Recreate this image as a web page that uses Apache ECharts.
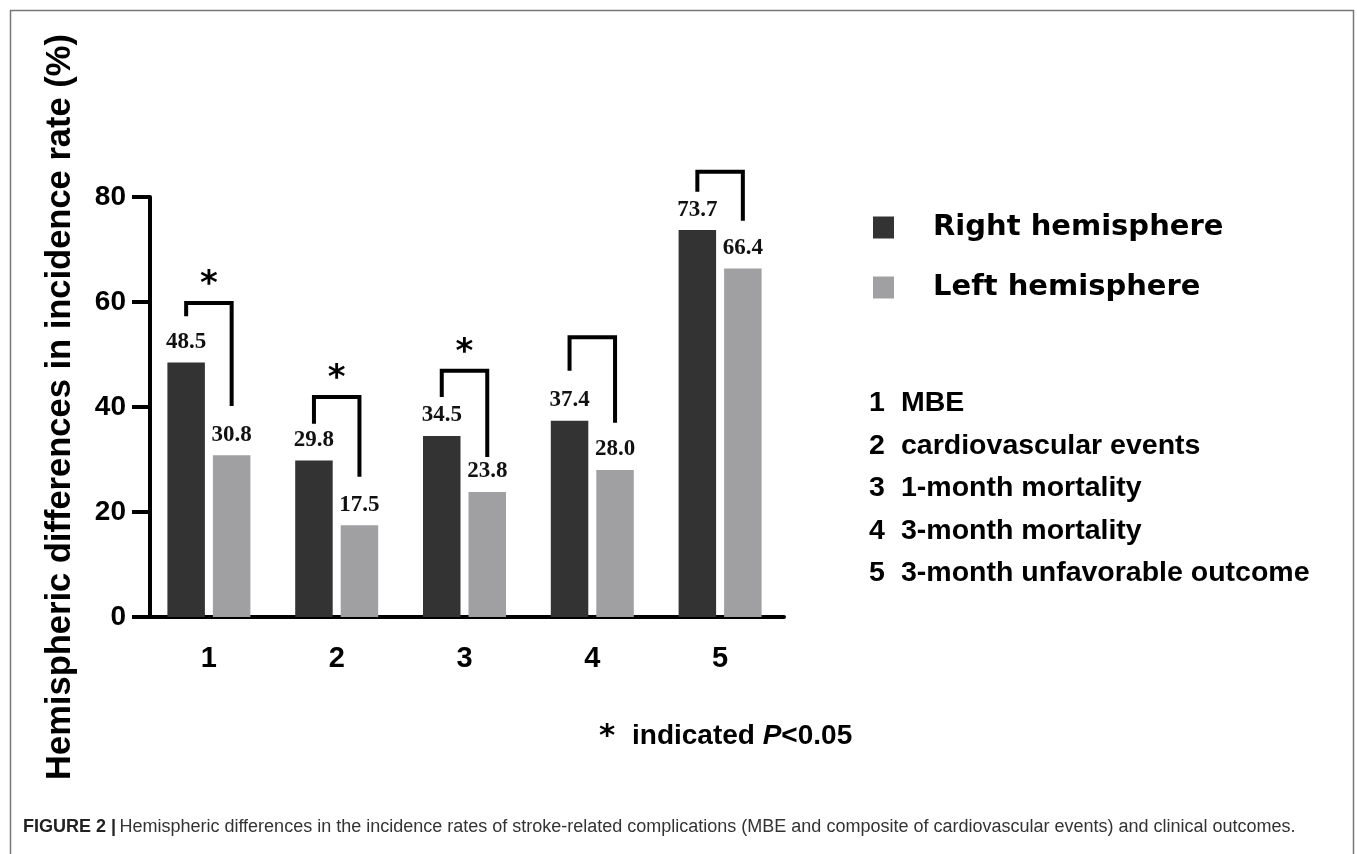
<!DOCTYPE html>
<html>
<head>
<meta charset="utf-8">
<script src="https://cdn.jsdelivr.net/npm/echarts@6/dist/echarts.min.js"></script>
<style>
html,body{margin:0;padding:0;background:#fff;}
#chart{width:1357px;height:854px;}
</style>
</head>
<body>
<div id="chart"></div>
<script>
// ---- data ----
const categories = ['1', '2', '3', '4', '5'];
const categoryNames = ['MBE', 'cardiovascular events', '1-month mortality', '3-month mortality', '3-month unfavorable outcome'];
const seriesNames = ['Right hemisphere', 'Left hemisphere'];
const rightHemisphere = [48.5, 29.8, 34.5, 37.4, 73.7];
const leftHemisphere = [30.8, 17.5, 23.8, 28.0, 66.4];
const yTickValues = [0, 20, 40, 60, 80];
// comparison brackets (in axis units)
const bracketTop = [59.8, 41.9, 46.9, 53.3, 84.8];
const bracketLeftEnd = [57.3, 36.8, 41.9, 46.9, 81.0];
const bracketRightEnd = [40.2, 26.7, 30.5, 37.0, 75.5];
const significant = [1, 1, 1, 0, 0];
const yAxisTitle = 'Hemispheric differences in incidence rate (%)';
const footnoteText = 'indicated ';
const footnoteP = 'P';
const footnoteTail = '<0.05';
const captionBold = 'FIGURE 2 |';
const captionText = 'Hemispheric differences in the incidence rates of stroke-related complications (MBE and composite of cardiovascular events) and clinical outcomes.';

// ---- style constants ----
const BAR_W = 37.5;
const BAR_GAP_PX = 8;
const DARK = '#333333';
const LIGHT = '#a0a0a3';
const SANS = '"Liberation Sans", Arial, sans-serif';

const chart = echarts.init(document.getElementById('chart'));

const listGraphics = [];
categories.forEach((c, i) => {
  const y = 403 + i * 42.5;
  listGraphics.push({
    type: 'text', left: 869, top: y - 14,
    style: { text: c, font: 'bold 28.5px ' + SANS, fill: '#000' }
  });
  listGraphics.push({
    type: 'text', left: 901, top: y - 14,
    style: { text: categoryNames[i], font: 'bold 28.5px ' + SANS, fill: '#000' }
  });
});

const valueLabel = {
  show: true, position: 'top', distance: 9,
  fontFamily: '"Liberation Serif", "Times New Roman", serif', fontWeight: 'bold', fontSize: 23, color: '#111',
  formatter: p => p.value.toFixed(1)
};

const option = {
  animation: false,
  backgroundColor: '#fff',
  grid: { left: 145, top: 197, width: 639, height: 420, containLabel: false },
  legend: {
    data: seriesNames,
    orient: 'vertical',
    left: 868,
    top: 208,
    itemWidth: 21,
    itemHeight: 22,
    itemGap: 31,
    icon: 'rect',
    selectedMode: false,
    textStyle: {
      fontFamily: '"DejaVu Sans", sans-serif',
      fontWeight: 'bold',
      fontSize: 29,
      color: '#000',
      padding: [0, 0, 0, 34]
    }
  },
  xAxis: {
    type: 'category',
    data: categories,
    axisLine: { lineStyle: { color: '#000', width: 4 } },
    axisTick: { alignWithLabel: true, length: 18, lineStyle: { color: '#000', width: 4 } },
    axisLabel: { margin: 27, color: '#000', fontFamily: SANS, fontWeight: 'bold', fontSize: 29 }
  },
  yAxis: {
    type: 'value',
    min: yTickValues[0],
    max: yTickValues[yTickValues.length - 1],
    interval: yTickValues[1] - yTickValues[0],
    offset: -5,
    name: yAxisTitle,
    nameLocation: 'middle',
    nameGap: 72,
    nameTextStyle: { color: '#000', fontFamily: SANS, fontWeight: 'bold', fontSize: 34.5 },
    splitLine: { show: false },
    axisLine: { show: true, lineStyle: { color: '#000', width: 4 } },
    axisTick: { show: true, length: 18, lineStyle: { color: '#000', width: 4 } },
    axisLabel: { margin: 24, color: '#000', fontFamily: SANS, fontWeight: 'bold', fontSize: 28 }
  },
  series: [
    {
      name: seriesNames[0], type: 'bar', data: rightHemisphere,
      barWidth: BAR_W, barGap: (BAR_GAP_PX / BAR_W * 100) + '%',
      itemStyle: { color: DARK },
      label: valueLabel
    },
    {
      name: seriesNames[1], type: 'bar', data: leftHemisphere,
      barWidth: BAR_W,
      itemStyle: { color: LIGHT },
      label: valueLabel
    },
    {
      type: 'custom',
      name: 'brackets',
      clip: false,
      z: 5,
      data: categories.map((c, i) => [i, bracketTop[i], bracketLeftEnd[i], bracketRightEnd[i], significant[i]]),
      encode: { x: 0, y: 1 },
      renderItem: function (params, api) {
        const i = api.value(0);
        const c = api.coord([i, 0])[0];
        const off = (BAR_W + BAR_GAP_PX) / 2;
        const xl = c - off, xr = c + off;
        const yt = api.coord([i, api.value(1)])[1];
        const yl = api.coord([i, api.value(2)])[1];
        const yr = api.coord([i, api.value(3)])[1];
        const children = [{
          type: 'polyline',
          shape: { points: [[xl, yl], [xl, yt], [xr, yt], [xr, yr]] },
          style: { stroke: '#000', lineWidth: 4, fill: null, lineJoin: 'miter', lineCap: 'butt' }
        }];
        if (api.value(4)) {
          children.push({
            type: 'text', x: c, y: yt - 18,
            style: { text: '*', font: 'bold 34px "DejaVu Sans", sans-serif', fill: '#000', align: 'center', verticalAlign: 'middle' }
          });
        }
        return { type: 'group', children: children };
      }
    }
  ],
  graphic: [
    {
      type: 'rect', left: 8, top: 8, silent: true,
      shape: { width: 1343, height: 880 },
      style: { fill: null, stroke: '#777', lineWidth: 1.5 }
    },
    {
      type: 'text', left: 599, top: 721,
      style: { text: '*', font: 'bold 31px "DejaVu Sans", sans-serif', fill: '#000' }
    },
    {
      type: 'text', left: 632, top: 722,
      style: {
        text: '{a|' + footnoteText + '}{i|' + footnoteP + '}{a|' + footnoteTail + '}',
        rich: {
          a: { font: 'bold 28px ' + SANS, fill: '#000', color: '#000' },
          i: { font: 'italic bold 28px ' + SANS, fill: '#000', color: '#000' }
        }
      }
    },
    {
      type: 'text', left: 23, top: 818,
      style: {
        text: '{b|' + captionBold + '} {r|' + captionText + '}',
        rich: {
          b: { font: 'bold 18px ' + SANS, fill: '#222', color: '#222' },
          r: { font: '18px ' + SANS, fill: '#333', color: '#333' }
        }
      }
    }
  ].concat(listGraphics)
};
chart.setOption(option);
</script>
</body>
</html>
